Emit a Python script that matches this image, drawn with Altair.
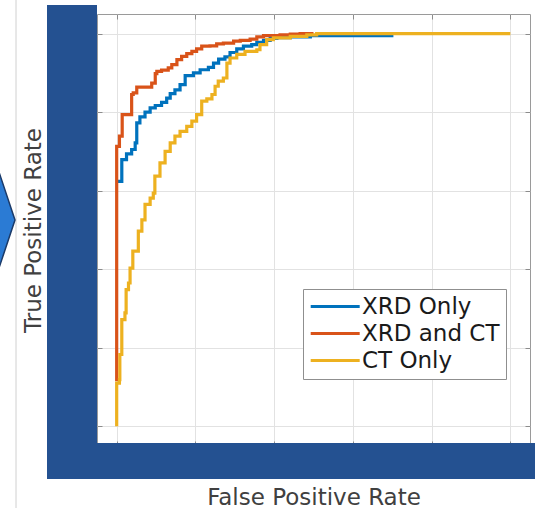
import altair as alt
import pandas as pd

series_names = ["XRD Only", "XRD and CT", "CT Only"]
series_colors = ["#0072BD", "#D95319", "#EDB120"]

xrd_fpr = [0.0, 0.013, 0.025, 0.038, 0.047, 0.051, 0.059, 0.072, 0.085, 0.098, 0.114, 0.127, 0.136,
           0.148, 0.161, 0.174, 0.195, 0.212, 0.233, 0.246, 0.259, 0.275, 0.288, 0.305, 0.322, 0.343,
           0.356, 0.373, 0.390, 0.407, 0.441, 0.492, 0.703]
xrd_tpr = [0.624, 0.679, 0.694, 0.705, 0.722, 0.773, 0.788, 0.800, 0.811, 0.817, 0.825, 0.836, 0.847,
           0.857, 0.870, 0.893, 0.900, 0.908, 0.914, 0.925, 0.935, 0.941, 0.952, 0.961, 0.968, 0.972,
           0.978, 0.983, 0.988, 0.990, 0.992, 0.995, 0.995]

both_fpr = [0.0, 0.0, 0.007, 0.014, 0.038, 0.042, 0.051, 0.089, 0.098, 0.102, 0.114, 0.131, 0.140,
            0.153, 0.165, 0.178, 0.191, 0.203, 0.216, 0.237, 0.254, 0.271, 0.297, 0.314, 0.339, 0.356,
            0.373, 0.415, 0.441, 0.466, 0.500]
both_tpr = [0.115, 0.713, 0.739, 0.794, 0.845, 0.849, 0.864, 0.874, 0.898, 0.904, 0.907, 0.913, 0.921,
            0.934, 0.942, 0.949, 0.955, 0.961, 0.968, 0.969, 0.974, 0.976, 0.981, 0.983, 0.986, 0.992,
            0.995, 0.997, 0.999, 1.0, 1.0]

ct_fpr = [0.0, 0.0, 0.007, 0.008, 0.013, 0.013, 0.021, 0.024, 0.030, 0.034, 0.041, 0.055, 0.064, 0.072,
          0.085, 0.093, 0.097, 0.110, 0.123, 0.136, 0.148, 0.161, 0.178, 0.191, 0.203, 0.216, 0.229,
          0.242, 0.250, 0.258, 0.271, 0.280, 0.288, 0.305, 0.326, 0.356, 0.364, 0.381, 0.398, 0.441,
          0.483, 0.508, 1.0]
ct_tpr = [0.0, 0.110, 0.119, 0.183, 0.187, 0.272, 0.289, 0.348, 0.365, 0.403, 0.446, 0.497, 0.526, 0.565,
          0.581, 0.594, 0.637, 0.671, 0.700, 0.722, 0.739, 0.751, 0.764, 0.777, 0.794, 0.828, 0.834,
          0.845, 0.866, 0.879, 0.887, 0.925, 0.938, 0.947, 0.955, 0.959, 0.972, 0.985, 0.989, 0.993,
          0.997, 1.0, 1.0]

tick_values = [0, 0.2, 0.4, 0.6, 0.8, 1.0]
axis_domain = [-0.05, 1.05]

rows = []
for name, xs, ys in [(series_names[0], xrd_fpr, xrd_tpr),
                     (series_names[1], both_fpr, both_tpr),
                     (series_names[2], ct_fpr, ct_tpr)]:
    for i, (x, y) in enumerate(zip(xs, ys)):
        rows.append({"series": name, "fpr": x, "tpr": y, "idx": i})
df = pd.DataFrame(rows)

FONT = "DejaVu Sans"
W, H = 433, 432

x_scale = alt.Scale(domain=axis_domain, nice=False, zero=False)
y_scale = alt.Scale(domain=axis_domain, nice=False, zero=False)

x_axis = alt.Axis(orient="bottom", values=tick_values, grid=True, gridColor="#e2e2e2", gridWidth=1,
                  domain=False, labels=False, ticks=True, tickSize=5, tickColor="#8c8c8c", offset=-5,
                  title="False Positive Rate", titleFont=FONT, titleFontSize=23, titleFontWeight="normal",
                  titleColor="#404040", titleX=W / 2, titleY=63, titleAlign="center",
                  titleBaseline="alphabetic")
y_axis = alt.Axis(orient="left", values=tick_values, grid=True, gridColor="#e2e2e2", gridWidth=1,
                  domain=False, labels=False, ticks=True, tickSize=5, tickColor="#8c8c8c", offset=-5,
                  title="True Positive Rate", titleFont=FONT, titleFontSize=23, titleFontWeight="normal",
                  titleColor="#404040", titleX=-62, titleY=216, titleAngle=270, titleAlign="center",
                  titleBaseline="alphabetic")

lines = alt.Chart(df).mark_line(interpolate="step-after", strokeWidth=3.2, clip=True).encode(
    x=alt.X("fpr:Q", scale=x_scale, axis=x_axis),
    y=alt.Y("tpr:Q", scale=y_scale, axis=y_axis),
    color=alt.Color("series:N", sort=series_names,
                    scale=alt.Scale(domain=series_names, range=series_colors),
                    legend=alt.Legend(title=None, orient="none", legendX=206, legendY=275,
                                      symbolType="M-1,0H4", symbolSize=384, symbolStrokeWidth=3,
                                      labelFont=FONT, labelFontSize=23, labelColor="#1a1a1a",
                                      labelOffset=30, labelLimit=0, strokeColor="#8f8f8f",
                                      fillColor="white", padding=6, rowPadding=3, cornerRadius=0)),
    order="idx:Q",
)

ticks_layer = alt.Chart(df).mark_point(opacity=0).encode(
    x=alt.X("fpr:Q", scale=x_scale,
            axis=alt.Axis(orient="top", values=tick_values, grid=False, domain=False, labels=False,
                          ticks=True, tickSize=5, tickColor="#8c8c8c", offset=-5, title=None)),
    y=alt.Y("tpr:Q", scale=y_scale,
            axis=alt.Axis(orient="right", values=tick_values, grid=False, domain=False, labels=False,
                          ticks=True, tickSize=5, tickColor="#8c8c8c", offset=-5, title=None)),
)

one = pd.DataFrame({"k": [0]})
BAND = "#245191"

left_band = alt.Chart(one).mark_rect(color=BAND).encode(
    x=alt.value(-50), x2=alt.value(0), y=alt.value(-9), y2=alt.value(465))
bottom_band = alt.Chart(one).mark_rect(color=BAND).encode(
    x=alt.value(-50), x2=alt.value(438), y=alt.value(429), y2=alt.value(465))
gray_line = alt.Chart(one).mark_rule(color="#d0d0d0", strokeWidth=1).encode(
    x=alt.value(-81), y=alt.value(-14), y2=alt.value(494))
arrow = alt.Chart(one).mark_point(shape="M-3,-9L0,0L-3,9Z", size=900, filled=True, fill="#2b7bd4",
                                  stroke="#1b3a68", strokeWidth=1.5, opacity=1).encode(
    x=alt.value(-82), y=alt.value(206))

chart = alt.layer(lines, ticks_layer, left_band, bottom_band, gray_line, arrow).resolve_axis(
    x="independent", y="independent"
).properties(
    width=W, height=H,
    padding={"left": 97, "top": 14, "right": 9, "bottom": 62},
    autosize=alt.AutoSizeParams(type="none"),
    background="white",
).configure_view(stroke="#9a9a9a", strokeWidth=1)

chart.save("out.html", embed_options={"renderer": "svg", "actions": False})
